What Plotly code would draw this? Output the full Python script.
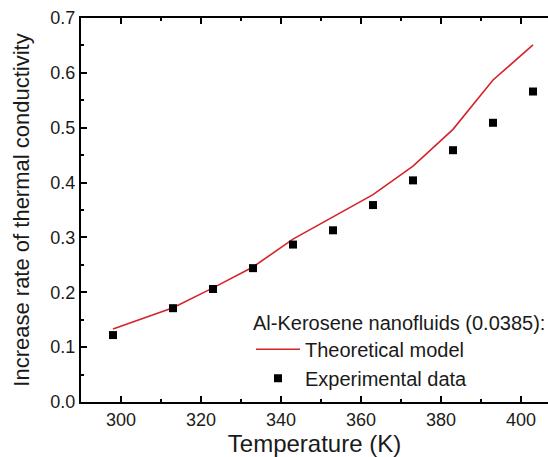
import plotly.graph_objects as go

temps = [298, 313, 323, 333, 343, 353, 363, 373, 383, 393, 403]
theory = [0.133, 0.172, 0.208, 0.246, 0.297, 0.338, 0.378, 0.430, 0.497, 0.587, 0.651]
experiment = [0.122, 0.171, 0.206, 0.244, 0.287, 0.313, 0.359, 0.404, 0.459, 0.509, 0.566]

FONT = "Liberation Sans, Arial, sans-serif"
TXT = "#1a1a1a"

fig = go.Figure()
fig.add_trace(go.Scatter(x=temps, y=theory, mode="lines", name="Theoretical model",
                         line=dict(color="#d4232a", width=1.6)))
fig.add_trace(go.Scatter(x=temps, y=experiment, mode="markers", name="Experimental data",
                         marker=dict(symbol="square", size=8, color="black")))

fig.update_layout(
    width=548, height=457,
    margin=dict(l=81, r=0, t=18, b=55),
    paper_bgcolor="white", plot_bgcolor="white",
    font=dict(family=FONT, color=TXT, size=18),
    legend=dict(
        x=0.364, y=0.256, xanchor="left", yanchor="top",
        bgcolor="rgba(0,0,0,0)",
        font=dict(size=20, family=FONT, color=TXT),
        title=dict(text="Al-Kerosene nanofluids (0.0385):", font=dict(size=20, family=FONT, color=TXT)),
        itemwidth=44, tracegroupgap=0,
    ),
    xaxis=dict(
        range=[290, 406.75], tickvals=[300, 320, 340, 360, 380, 400],
        ticks="inside", ticklen=6, tickwidth=2, tickcolor="black",
        showline=True, linewidth=2, linecolor="black", mirror="allticks",
        showgrid=False, zeroline=False,
        minor=dict(dtick=10, tick0=290, ticks="inside", ticklen=3, tickwidth=2, tickcolor="black"),
        title=dict(text="Temperature (K)", font=dict(size=24, family=FONT, color=TXT), standoff=9),
        tickfont=dict(size=18, family=FONT, color=TXT),
    ),
    yaxis=dict(
        range=[0, 0.7], dtick=0.1, tickformat=".1f",
        ticks="inside", ticklen=6, tickwidth=2, tickcolor="black",
        showline=True, linewidth=2, linecolor="black", mirror=False,
        showgrid=False, zeroline=False,
        minor=dict(dtick=0.05, ticks="inside", ticklen=3, tickwidth=2, tickcolor="black"),
        title=dict(text="Increase rate of thermal conductivity", font=dict(size=22, family=FONT, color=TXT), standoff=15),
        tickfont=dict(size=18, family=FONT, color=TXT),
    ),
)

fig.write_html("out.html")
